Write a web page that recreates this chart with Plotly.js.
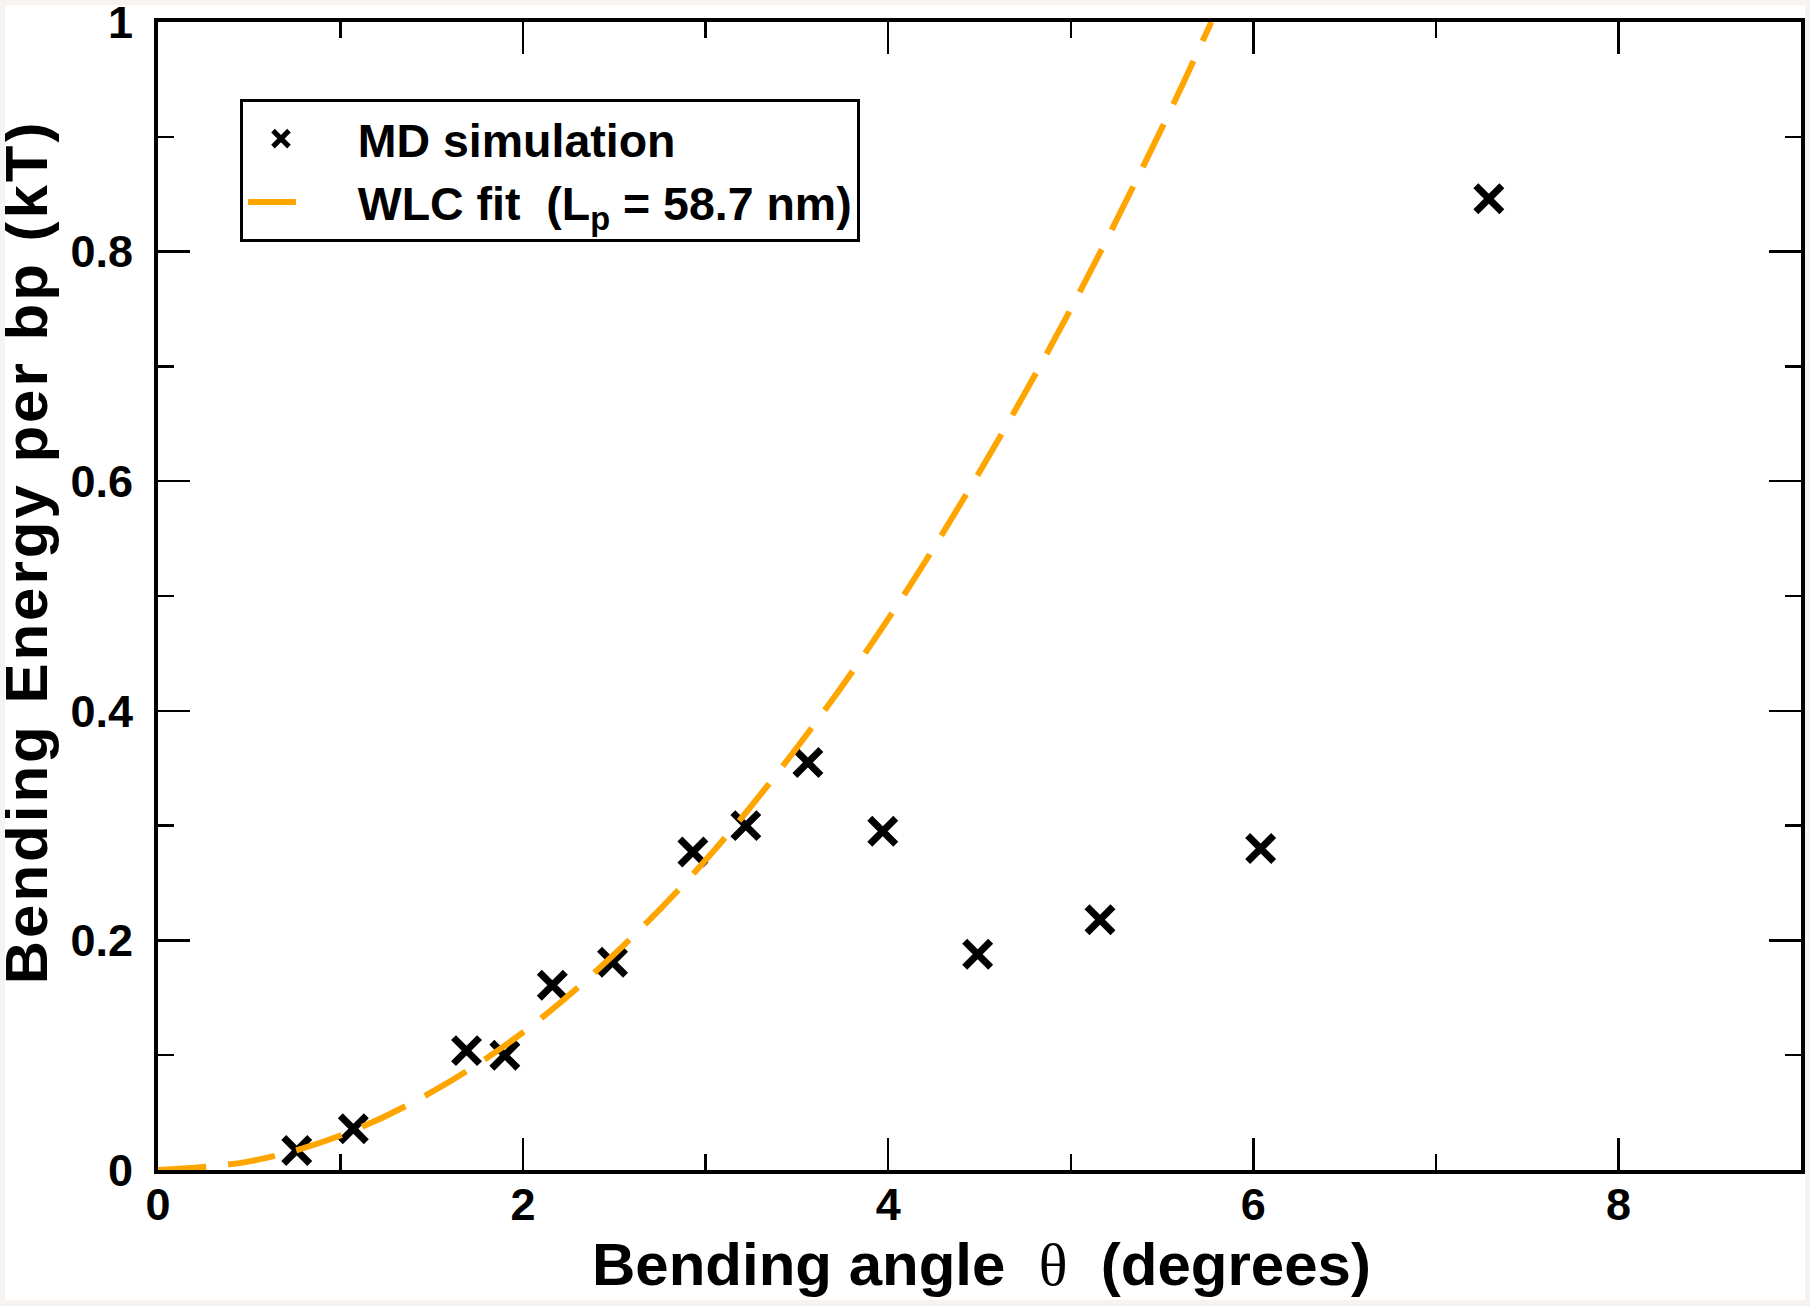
<!DOCTYPE html>
<html>
<head>
<meta charset="utf-8">
<script src="https://cdn.plot.ly/plotly-3.0.1.min.js"></script>
<style>
  html, body { margin: 0; padding: 0; background: #f7f3f1; width: 1810px; height: 1306px; overflow: hidden; }
  #chart { position: absolute; left: 5px; top: 5px; width: 1800px; height: 1295px; overflow: hidden; background: #ffffff; }
</style>
</head>
<body>
<div id="chart"></div>
<script>
// MD simulation points (bending angle in degrees, energy per bp in kT)
const mdAngle  = [0.76, 1.07, 1.69, 1.90, 2.16, 2.49, 2.93, 3.22, 3.56, 3.97, 4.49, 5.16, 6.04, 7.29];
const mdEnergy = [0.017, 0.036, 0.104, 0.100, 0.161, 0.181, 0.277, 0.300, 0.355, 0.295, 0.188, 0.218, 0.280, 0.846];

// WLC fit curve
const fitAngle  = [0, 0.5, 1.0, 1.5, 2.0, 2.5, 3.0, 3.5, 4.0, 4.5, 5.0, 5.5, 5.77];
const fitEnergy = [0, 0.0075, 0.030, 0.068, 0.120, 0.188, 0.270, 0.368, 0.480, 0.608, 0.750, 0.908, 1.0];

// Axis ticks
const xTickVals = [0, 2, 4, 6, 8];
const xTickText = ["0", "2", "4", "6", "8"];
const yTickVals = [0, 0.2, 0.4, 0.6, 0.8, 1];
const yTickText = ["0", "0.2", "0.4", "0.6", "0.8", "1"];

const seriesNames = ["&nbsp;&nbsp;&nbsp;MD simulation", "&nbsp;&nbsp;&nbsp;WLC fit  (L<sub>p</sub> = 58.7 nm)"];
const xTitle = "Bending angle  <span style=\"font-family:'Liberation Serif';font-weight:normal\">θ</span>  (degrees)";
const yTitle = "<span style=\"letter-spacing:3px\">Bending Energy per bp (kT)</span>";

const FONT = "'Liberation Sans', Arial, Helvetica, sans-serif";

const traces = [
  {
    x: mdAngle, y: mdEnergy, type: 'scatter', mode: 'markers', name: seriesNames[0],
    marker: { symbol: 'x-thin', size: 26, color: '#000', line: { color: '#000', width: 7 } },
    cliponaxis: false
  },
  {
    x: fitAngle, y: fitEnergy, type: 'scatter', mode: 'lines', name: seriesNames[1],
    line: { color: '#ffa500', width: 6, dash: '48px,22px', shape: 'spline' }
  }
];

const axisCommon = {
  showgrid: false, zeroline: false, showline: true, linecolor: '#000', linewidth: 4,
  mirror: 'ticks', ticks: 'inside', ticklen: 32, tickwidth: 2.5, tickcolor: '#000',
  tickfont: { family: FONT, size: 45, color: '#000', weight: 'bold' },
  ticklabeloverflow: 'allow'
};

const layout = {
  width: 1800, height: 1295,
  margin: { l: 153, r: 4, t: 17, b: 130 },
  paper_bgcolor: '#ffffff', plot_bgcolor: '#ffffff',
  font: { family: FONT, color: '#000' },
  showlegend: true,
  xaxis: Object.assign({}, axisCommon, {
    range: [0, 9], tickmode: 'array', tickvals: xTickVals, ticktext: xTickText,
    ticklabelstandoff: -8,
    minor: { dtick: 1, ticks: 'inside', ticklen: 16, tickwidth: 2.5, tickcolor: '#000' }
  }),
  yaxis: Object.assign({}, axisCommon, {
    range: [0, 1], tickmode: 'array', tickvals: yTickVals, ticktext: yTickText,
    ticklabelstandoff: 12,
    minor: { dtick: 0.1, ticks: 'inside', ticklen: 16, tickwidth: 2.5, tickcolor: '#000' }
  }),
  legend: {
    x: 0.0499, y: 0.933, xanchor: 'left', yanchor: 'top',
    bgcolor: '#ffffff', bordercolor: '#000', borderwidth: 3,
    font: { family: FONT, size: 46.5, color: '#000', weight: 'bold' },
    itemwidth: 66
  },
  annotations: [
    {
      text: xTitle, xref: 'paper', yref: 'paper', x: 0.501, y: -0.082,
      xanchor: 'center', yanchor: 'middle', showarrow: false,
      font: { family: FONT, size: 60, color: '#000', weight: 'bold' }
    },
    {
      text: yTitle, xref: 'paper', yref: 'paper', x: -0.080, y: 0.5386,
      xanchor: 'center', yanchor: 'middle', showarrow: false, textangle: -90,
      font: { family: FONT, size: 60, color: '#000', weight: 'bold' }
    }
  ]
};

Plotly.newPlot('chart', traces, layout, { displayModeBar: false, staticPlot: true });
</script>
</body>
</html>
